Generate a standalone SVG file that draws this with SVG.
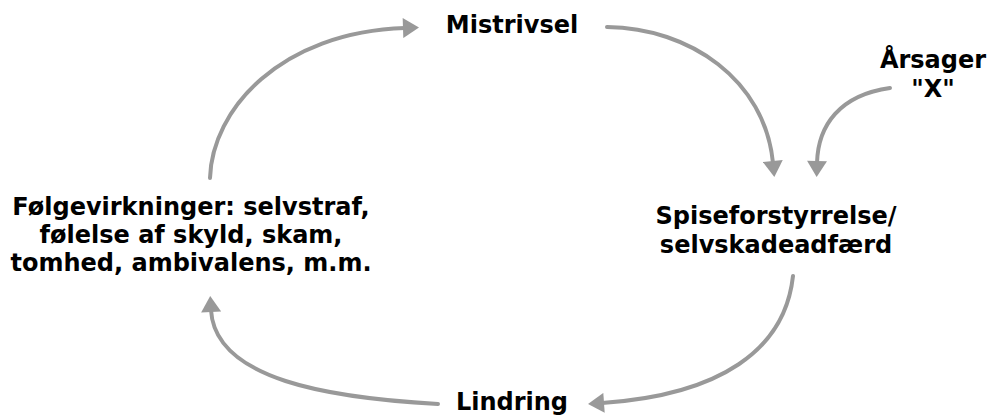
<svg xmlns="http://www.w3.org/2000/svg" width="989" height="416" viewBox="0 0 989 416">
<style>
  .lbl { font-family: "DejaVu Sans", Verdana, sans-serif; font-weight: bold; font-size: 24px; fill: #000; text-anchor: middle; }
  .conn { fill: none; stroke: #999; stroke-width: 4; stroke-linecap: round; }
</style>
<defs>
  <marker id="ah" markerUnits="userSpaceOnUse" markerWidth="20" markerHeight="20" viewBox="0 0 16 20" refX="2" refY="10" orient="auto">
    <path d="M0,0 L16,10 L0,20 Z" fill="#999"/>
  </marker>
</defs>
<rect width="989" height="416" fill="#fff"/>
<g id="connectors">
  <path class="conn" marker-end="url(#ah)" d="M210,178 C212,110 280,32 405,28"/>
  <path class="conn" marker-end="url(#ah)" d="M607,27 C690,28 765,80 773,163"/>
  <path class="conn" marker-end="url(#ah)" d="M890,88 C840,95 818,125 817,163"/>
  <path class="conn" marker-end="url(#ah)" d="M793,276 C785,350 720,395 602,403"/>
  <path class="conn" marker-end="url(#ah)" d="M438,404 C330,398 215,380 211,310"/>
</g>
<g id="mistrivsel"><text class="lbl" x="512" y="33">Mistrivsel</text></g>
<g id="aarsager"><text class="lbl" x="933" y="68">Årsager</text><text class="lbl" x="933" y="97">"X"</text></g>
<g id="spise"><text class="lbl" x="776" y="224">Spiseforstyrrelse/</text><text class="lbl" x="776" y="253">selvskadeadfærd</text></g>
<g id="lindring"><text class="lbl" x="512" y="410">Lindring</text></g>
<g id="foelge"><text class="lbl" x="191" y="215">Følgevirkninger: selvstraf,</text><text class="lbl" x="191" y="243">følelse af skyld, skam,</text><text class="lbl" x="191" y="271">tomhed, ambivalens, m.m.</text></g>
</svg>
